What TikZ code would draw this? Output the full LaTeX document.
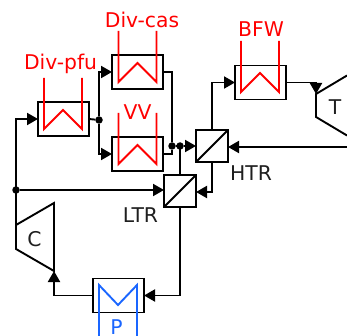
\documentclass[tikz,border=0pt]{standalone}
\usepackage{fontspec}
\setmainfont{DejaVu Sans}
\usetikzlibrary{arrows.meta,calc}
\definecolor{hotc}{RGB}{255,0,0}
\definecolor{coldc}{RGB}{26,102,255}
\tikzset{
  line/.style={draw=black,line width=1.9pt,line join=miter},
  flow/.style={line,-{Triangle[length=11pt,width=12pt]}},
  hx/.style={rectangle,draw=black,line width=1.9pt,minimum width=51pt,minimum height=34pt,inner sep=0pt,outer sep=0pt},
  recup/.style={rectangle,draw=black,line width=1.9pt,minimum width=32pt,minimum height=32pt,inner sep=0pt,outer sep=0pt},
  hot/.style={draw=hotc,line width=1.9pt,line join=miter},
  cold/.style={draw=coldc,line width=1.9pt,line join=miter},
  dot/.style={circle,fill=black,inner sep=0pt,minimum size=7.5pt,outer sep=0pt},
  lab/.style={font=\fontsize{20.3pt}{23pt}\selectfont,text=black!88,inner sep=0pt},
  hotlab/.style={font=\fontsize{20.3pt}{23pt}\selectfont,text=hotc,inner sep=0pt},
  coldlab/.style={font=\fontsize{20.3pt}{23pt}\selectfont,text=coldc,inner sep=0pt},
}
\begin{document}
\begin{tikzpicture}[x=1pt,y=-1pt]
\useasboundingbox (0,0) rectangle (347,336);
% equipment
\node[hx] (pfu) at (63.5,119) {};
\node[hx] (cas) at (137.5,72) {};
\node[hx] (vv) at (137.5,154) {};
\node[hx] (bfw) at (260.5,82.5) {};
\node[hx] (p) at (118.5,295.5) {};
\node[recup] (htr) at (212,146) {};
\node[recup] (ltr) at (180,191) {};
\draw[line] (htr.south west) -- (htr.north east);
\draw[line] (ltr.south west) -- (ltr.north east);
% turbine and compressor
\draw[line] (347,75.5) -- (316,94) -- (316,117) -- (347,135.5);
\draw[line] (16,225) -- (54,203) -- (54,271) -- (16,249) -- cycle;
\coordinate (tin) at (316,94);
\coordinate (tout) at (347,147);
\coordinate (cout) at (16,225);
\coordinate (cin) at (54,271);
% heat-exchanger zigzags
\draw[hot] (44,78) -- (44,129) -- (63,110) -- (82,129) -- (82,78);
\draw[hot] (118.5,31) -- (118.5,82) -- (137.5,63) -- (156.5,82) -- (156.5,31);
\draw[hot] (118.5,113) -- (118.5,164) -- (137.5,145) -- (156.5,164) -- (156.5,113);
\draw[hot] (241,41) -- (241,92) -- (260,73) -- (279,92) -- (279,41);
\draw[cold] (99,336) -- (99,285) -- (118,305) -- (137,285) -- (137,336);
% junctions
\node[dot] (j1) at (16,190) {};
\node[dot] (j2) at (99,120) {};
\node[dot] (j3) at (172,146) {};
\node[dot] (j4) at (180,146) {};
% connectors
\draw[flow] (cout) -- (16,119) -- (pfu.west);
\draw[flow] (j1) -- (ltr.west |- j1);
\draw[line] (pfu.east) -- (j2);
\draw[flow] (j2) |- (cas.west);
\draw[flow] (j2) |- (vv.west);
\draw[line] (cas.east) -| (j3);
\draw[line] (vv.east) -| (j3);
\draw[line] (j3) -- (j4);
\draw[flow] (j4) -- (htr.west);
\draw[line] (ltr.north) -- (ltr.north |- j4);
\draw[flow] (htr.north) |- (bfw.west);
\draw[flow] (bfw.east) -| (tin);
\draw[flow] (tout) -- (htr.east |- tout);
\draw[flow] (htr.south) |- (ltr.east |- 0,192);
\draw[flow] (ltr.south) |- (p.east);
\draw[flow] (p.west) -| (cin);
% labels
\node[hotlab] (tpfu) at (60.5,64) {Div-pfu};
\node[hotlab] (tcas) at (142,20) {Div-cas};
\node[hotlab] (tvv) at (137.5,112) {VV};
\node[hotlab] (tbfw) at (261,29) {BFW};
\node[lab] (thtr) at (251,173) {HTR};
\node[lab] (tltr) at (140.5,215) {LTR};
\node[lab] (tt) at (335,107) {T};
\node[lab] (tc) at (34.5,239) {C};
\node[coldlab] (tp) at (116.5,327) {P};
\end{tikzpicture}
\end{document}
